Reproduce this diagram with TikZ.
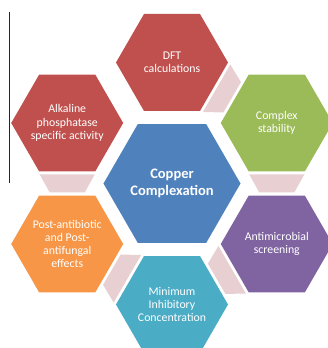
\documentclass[tikz,border=0pt]{standalone}
\usepackage{fontspec}
\setmainfont{Carlito}
\usetikzlibrary{shapes.geometric,calc}
\definecolor{copperblue}{HTML}{4F81BD}
\definecolor{hexred}{HTML}{C0504D}
\definecolor{hexgreen}{HTML}{9BBB59}
\definecolor{hexpurple}{HTML}{8064A2}
\definecolor{hexteal}{HTML}{4BACC6}
\definecolor{hexorange}{HTML}{F79646}
\definecolor{linkpink}{RGB}{232,208,210}

\begin{document}
\begin{tikzpicture}[
  hexa/.style={shape=regular polygon,regular polygon sides=6,minimum size=112pt,inner sep=0pt},
  hextext/.style={text=white,align=center,inner sep=0pt,font=\fontsize{11.8}{13.2}\selectfont},
  link/.style={fill=linkpink}]
\useasboundingbox (-172pt,-164.5pt) rectangle (156pt,183.5pt);

\draw[line width=0.8pt,black!85] (-162.7pt,171.5pt) -- (-162.7pt,0.5pt);

% hexagons
\node[hexa,fill=copperblue,minimum size=137pt] (core) at (0,0) {};
\node[hexa,fill=hexred] (dft) at (90:121pt) {};
\node[hexa,fill=hexgreen] (stab) at (30:121pt) {};
\node[hexa,fill=hexpurple] (micro) at (-30:121pt) {};
\node[hexa,fill=hexteal] (mic) at (-90:121pt) {};
\node[hexa,fill=hexorange] (post) at (210:121pt) {};
\node[hexa,fill=hexred] (alk) at (150:121pt) {};

% texts
\node[hextext,font=\fontsize{14.5}{17}\selectfont\bfseries] (core-t) at (core) {Copper\\Complexation};
\node[hextext] (dft-t) at (dft) {DFT\\calculations};
\node[hextext] (stab-t) at (stab) {Complex\\stability};
\node[hextext] (micro-t) at (micro) {Antimicrobial\\screening};
\node[hextext] (mic-t) at (mic) {Minimum\\Inhibitory\\Concentration};
\node[hextext] (post-t) at (post) {Post-antibiotic\\and Post-\\antifungal\\effects};
\node[hextext] (alk-t) at (alk) {Alkaline\\phosphatase\\specific activity};

% trapezium links, wide end at the first hexagon
\foreach \a/\b in {dft/stab,stab/micro,micro/mic,mic/post,alk/post} {
  \coordinate (m) at ($(\a)!0.5!(\b)$);
  \coordinate (p) at ($(m)!9pt!(\a)$);
  \coordinate (q) at ($(m)!9pt!(\b)$);
  \fill[link] ($(p)!27.5pt!90:(m)$) -- ($(p)!27.5pt!-90:(m)$)
    -- ($(q)!17.5pt!90:(m)$) -- ($(q)!17.5pt!-90:(m)$) -- cycle;
}
\end{tikzpicture}
\end{document}
